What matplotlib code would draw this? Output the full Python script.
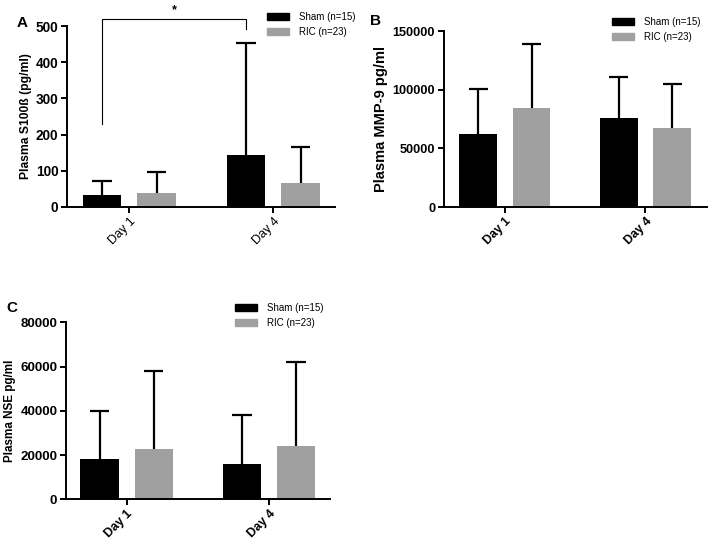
import matplotlib
matplotlib.use("Agg")
import matplotlib.pyplot as plt
import numpy as np
from matplotlib.patches import Patch

plt.rcParams['font.family'] = ['Liberation Sans', 'DejaVu Sans']

days = ["Day 1", "Day 4"]
groups = ["Sham (n=15)", "RIC (n=23)"]
colors = ["#000000", "#A0A0A0"]

s100_sham = [33, 145]
s100_sham_sd = [39, 309]
s100_ric = [39, 66]
s100_ric_sd = [57, 101]

mmp_sham = [61900, 76100]
mmp_sham_sd = [38400, 34700]
mmp_ric = [84100, 67600]
mmp_ric_sd = [54800, 36900]

nse_sham = [18100, 16000]
nse_sham_sd = [21700, 22000]
nse_ric = [22800, 24000]
nse_ric_sd = [35200, 38100]

W, H = 709, 544
fig = plt.figure(figsize=(W / 100, H / 100), dpi=100)


def axrect(l, r, b, t):
    return [l / W, 1 - b / H, (r - l) / W, (b - t) / H]


def panel(ax, sham, sham_sd, ric, ric_sd, ymax, yticks, ylabel, xlim, xbold, xfs, yfs, ylfs):
    x = np.arange(len(days))
    off, w = 0.19, 0.27
    for vals, sds, c, sgn in [(sham, sham_sd, colors[0], -1), (ric, ric_sd, colors[1], 1)]:
        xs = x + sgn * off
        vals = np.array(vals)
        sds = np.array(sds)
        ax.bar(xs, vals, w, color=c, zorder=2)
        ax.vlines(xs, vals, vals + sds, color='black', lw=1.6, zorder=3)
        ax.hlines(vals + sds, xs - w * 0.25, xs + w * 0.25, color='black', lw=1.6, zorder=3)
    ax.set_xlim(*xlim)
    ax.set_ylim(0, ymax)
    ax.set_yticks(yticks)
    ax.set_yticklabels([str(v) for v in yticks], fontsize=yfs, fontweight='bold')
    ax.set_xticks(x)
    ax.set_xticklabels(days, rotation=45, ha='right', rotation_mode='anchor',
                       fontsize=xfs, fontweight='bold' if xbold else 'normal')
    ax.set_ylabel(ylabel, fontsize=ylfs, fontweight='bold', labelpad=3)
    for s in ['top', 'right']:
        ax.spines[s].set_visible(False)
    for s in ['left', 'bottom']:
        ax.spines[s].set_linewidth(1.4)
    ax.tick_params(axis='both', width=1.4, length=4, direction='out', pad=2)


def legend(ax, x, y):
    handles = [Patch(facecolor=c, edgecolor=c) for c in colors]
    ax.legend(handles, groups, loc='upper left', bbox_to_anchor=(x / W, 1 - y / H),
              bbox_transform=fig.transFigure, frameon=False, fontsize=7,
              handlelength=2.3, handleheight=0.75, handletextpad=1.0,
              labelspacing=0.5, borderpad=0, borderaxespad=0)


# Panel A
axA = fig.add_axes(axrect(66.7, 335, 207, 26))
panel(axA, s100_sham, s100_sham_sd, s100_ric, s100_ric_sd, 500, [0, 100, 200, 300, 400, 500],
      "Plasma S100ß (pg/ml)", (-0.435, 1.428), False, 9, 9.8, 8.7)
axA.plot([-0.19, -0.19, 0.81, 0.81], [228, 519, 519, 491], color='black', lw=0.8, clip_on=False)
axA.text(0.31, 545, "*", ha='center', va='center', fontsize=9, fontweight='bold')
legend(axA, 266.7, 12)
fig.text(21.7 / W, 1 - 22.7 / H, "A", fontsize=11, fontweight='bold', ha='center', va='center')

# Panel B
axB = fig.add_axes(axrect(443.5, 706.7, 207, 31))
panel(axB, mmp_sham, mmp_sham_sd, mmp_ric, mmp_ric_sd, 150000, [0, 50000, 100000, 150000],
      "Plasma MMP-9 pg/ml", (-0.436, 1.436), True, 8.8, 9.2, 10.5)
legend(axB, 611.7, 17)
fig.text(376 / W, 1 - 21 / H, "B", fontsize=11, fontweight='bold', ha='center', va='center')

# Panel C
axC = fig.add_axes(axrect(65.7, 330, 499.3, 322.3))
panel(axC, nse_sham, nse_sham_sd, nse_ric, nse_ric_sd, 80000, [0, 20000, 40000, 60000, 80000],
      "Plasma NSE pg/ml", (-0.429, 1.429), True, 9, 9.6, 8.4)
legend(axC, 235, 303)
fig.text(11.7 / W, 1 - 308 / H, "C", fontsize=11, fontweight='bold', ha='center', va='center')

fig.savefig("out.png", dpi=100)
